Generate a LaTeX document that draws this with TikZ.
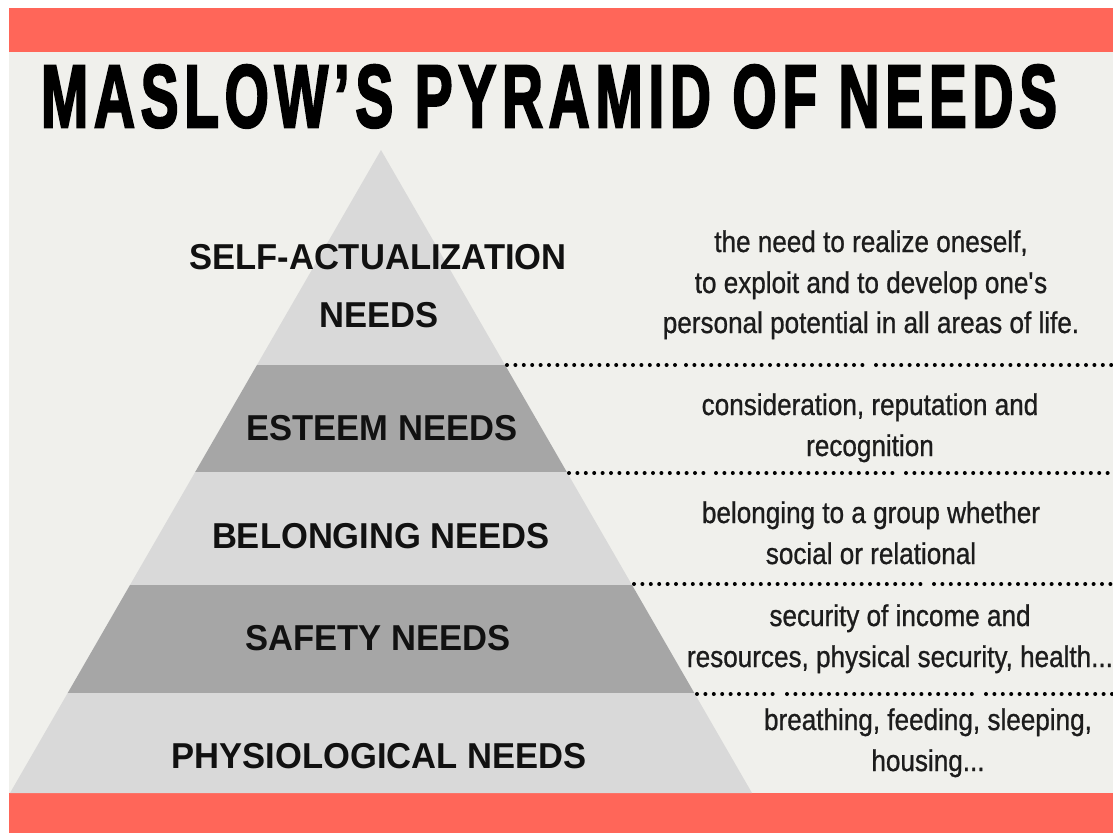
\documentclass[tikz,border=0pt]{standalone}
\usepackage{fontspec}
\usepackage{graphicx}
\setmainfont{Liberation Sans}
\newfontfamily\titlefont[LetterSpace=10,FakeBold=3]{Liberation Sans Bold}
\newfontfamily\labelfont[FakeStretch=0.96]{Liberation Sans Bold}
\newfontfamily\descfont[FakeStretch=0.87,FakeBold=0.8]{Liberation Sans}

\definecolor{banner}{HTML}{FF6659}
\definecolor{paper}{HTML}{F0F0EC}
\definecolor{tierlight}{HTML}{D9D9D9}
\definecolor{tierdark}{HTML}{A6A6A6}
\definecolor{ink}{HTML}{111111}
\definecolor{descink}{HTML}{1C1C1C}

\tikzset{
  tierlabel/.style={font=\labelfont\fontsize{36}{36}\selectfont, text=ink, anchor=base, inner sep=0pt},
  desc/.style={font=\descfont\fontsize{30}{30}\selectfont, text=descink, anchor=base, inner sep=0pt},
  divider/.style={line width=4pt, line cap=round, dash pattern=on 0pt off 8.4pt, draw=black}
}

\begin{document}
\begin{tikzpicture}[x=1pt,y=-1pt]
  \useasboundingbox (0,0) rectangle (1113,833);
  % page, background and the two banners
  \fill[white] (0,0) rectangle (1113,833);
  \fill[paper] (9,52) rectangle (1113,793);
  \fill[banner] (9,8) rectangle (1113,52);
  \fill[banner] (9,793) rectangle (1113,833);

  % pyramid tiers, top to bottom
  \fill[tierlight] (381,150) -- (505.05,365) -- (256.95,365) -- cycle;
  \fill[tierdark]  (256.95,365) -- (505.05,365) -- (566.8,472) -- (195.2,472) -- cycle;
  \fill[tierlight] (195.2,472) -- (566.8,472) -- (632,585) -- (130,585) -- cycle;
  \fill[tierdark]  (130,585) -- (632,585) -- (694.3,693) -- (67.7,693) -- cycle;
  \fill[tierlight] (67.7,693) -- (694.3,693) -- (752,793) -- (10,793) -- cycle;

  % dotted dividers between the descriptions (three runs each)
  \foreach \y/\s/\ga/\gb in {365/507/682/872, 473/569/712/902, 584/634/740/930, 694/697/783/982}{
    \draw[divider] (\s,\y) -- (\ga-4,\y);
    \draw[divider] (\ga+4,\y) -- (\gb-4,\y);
    \draw[divider] (\gb+4,\y) -- (1113,\y);
  }

  % title
  \node[anchor=base, inner sep=0pt, text=black] (title) at (549,127)
    {\resizebox{1016pt}{62pt}{\titlefont MASLOW’S PYRAMID OF NEEDS}};

  % tier labels
  \node[tierlabel] (selfA)     at (378,269) {SELF-ACTUALIZATION};
  \node[tierlabel] (selfB)     at (379,327) {NEEDS};
  \node[tierlabel] (esteem)    at (382,440) {ESTEEM NEEDS};
  \node[tierlabel] (belonging) at (381,548) {BELONGING NEEDS};
  \node[tierlabel] (safety)    at (378,650) {SAFETY NEEDS};
  \node[tierlabel] (physio)    at (379,768) {PHYSIOLOGICAL NEEDS};

  % descriptions
  \node[desc] (selfd1) at (871,252) {the need to realize oneself,};
  \node[desc] (selfd2) at (871,293) {to exploit and to develop one\textquotesingle s};
  \node[desc] (selfd3) at (871,333) {personal potential in all areas of life.};
  \node[desc] (estd1)  at (870,415) {consideration, reputation and};
  \node[desc] (estd2)  at (870,456) {recognition};
  \node[desc] (beld1)  at (871,523) {belonging to a group whether};
  \node[desc] (beld2)  at (871,564) {social or relational};
  \node[desc] (safd1)  at (900,626) {security of income and};
  \node[desc] (safd2)  at (900,667) {resources, physical security, health...};
  \node[desc] (phyd1)  at (928,730) {breathing, feeding, sleeping,};
  \node[desc] (phyd2)  at (928,771) {housing...};
\end{tikzpicture}
\end{document}
